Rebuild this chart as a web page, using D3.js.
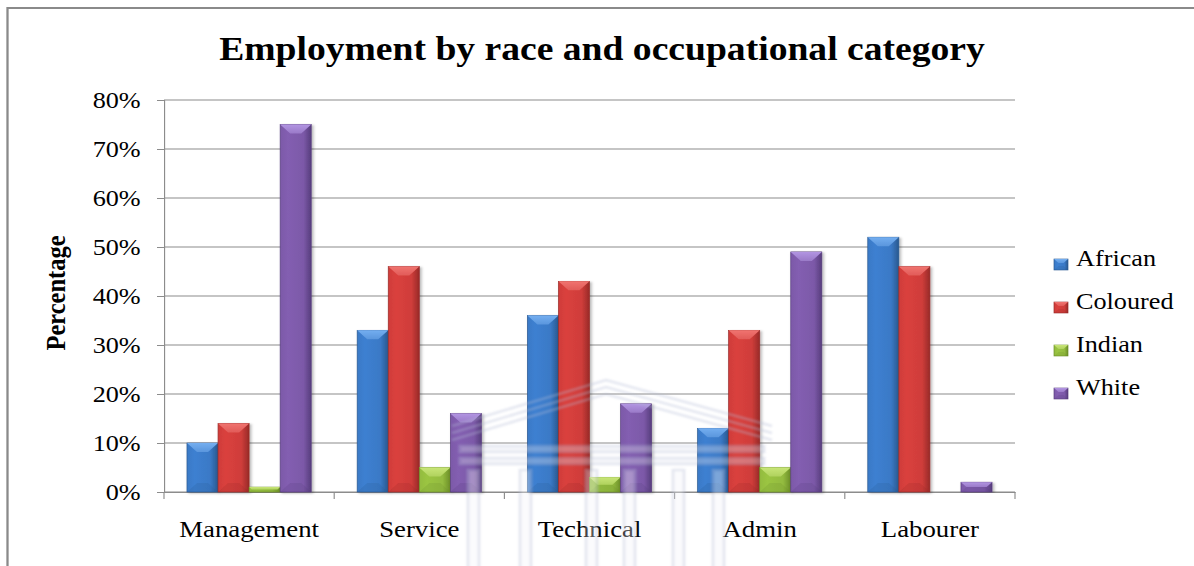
<!DOCTYPE html>
<html>

<head>
    <script src="https://d3js.org/d3.v7.min.js"></script>
    <title>Employment by race and occupational category</title>
    <style>
        body {
            margin: 0;
            background: white;
        }

        svg text {
            font-family: "Liberation Serif", "Times New Roman", serif;
            fill: #000;
        }
    </style>
</head>

<body>
    <svg id="chart" width="1194" height="566"></svg>

    <script>
        // values in percent
        const categories = ["Management", "Service", "Technical", "Admin", "Labourer"];
        const series = ["African", "Coloured", "Indian", "White"];
        const african = [10, 33, 36, 13, 52];
        const coloured = [14, 46, 43, 33, 46];
        const indian = [1, 5, 3, 5, 0];
        const white = [75, 16, 18, 49, 2];
        const yTicks = [0, 10, 20, 30, 40, 50, 60, 70, 80];

        const values = { African: african, Coloured: coloured, Indian: indian, White: white };

        // the chart is drawn in a horizontally squeezed space and stretched back out
        const K = 1.14;
        const VW = 1194 / K;
        const px = v => v / K;
        const SERIF = "'Liberation Serif', 'Times New Roman', serif";

        const palette = {
            African: { base: "#3a79c6", light: "#74aef0", dark: "#29588f" },
            Coloured: { base: "#cf3d3a", light: "#f07470", dark: "#982a28" },
            Indian: { base: "#93bb3f", light: "#c8e577", dark: "#6b8e27" },
            White: { base: "#7c59a8", light: "#b295e2", dark: "#573d7d" }
        };

        const svg = d3.select("#chart")
            .attr("viewBox", `0 0 ${VW} 566`)
            .attr("preserveAspectRatio", "none");

        const defs = svg.append("defs");

        const shadow = defs.append("filter").attr("id", "shadow")
            .attr("x", "-20%").attr("y", "-5%").attr("width", "150%").attr("height", "115%");
        shadow.append("feDropShadow")
            .attr("dx", 1.5).attr("dy", 1).attr("stdDeviation", 1.2)
            .attr("flood-color", "#000").attr("flood-opacity", 0.3);

        const soft = defs.append("filter").attr("id", "soft");
        soft.append("feGaussianBlur").attr("stdDeviation", 0.8);

        series.forEach(s => {
            const c = palette[s];
            const face = defs.append("linearGradient").attr("id", "face-" + s)
                .attr("x1", 0).attr("x2", 1).attr("y1", 0).attr("y2", 0);
            face.append("stop").attr("offset", "0%").attr("stop-color", c.base);
            face.append("stop").attr("offset", "25%").attr("stop-color", d3.color(c.base).brighter(0.15));
            face.append("stop").attr("offset", "75%").attr("stop-color", c.base);
            face.append("stop").attr("offset", "100%").attr("stop-color", c.dark);

            const cap = defs.append("linearGradient").attr("id", "top-" + s)
                .attr("x1", 0).attr("x2", 0).attr("y1", 0).attr("y2", 1);
            cap.append("stop").attr("offset", "0%").attr("stop-color", c.light);
            cap.append("stop").attr("offset", "100%").attr("stop-color", d3.interpolateRgb(c.light, c.base)(0.45));
        });

        // outer frame
        svg.append("path")
            .attr("d", `M${px(7.5)},566 L${px(7.5)},8 L${VW},8`)
            .attr("fill", "none")
            .attr("stroke", "#8a8a8a")
            .attr("stroke-width", 2);

        const plotLeft = px(164), plotRight = px(1015);
        const plotTop = 100, plotBottom = 492;

        const x0 = d3.scaleBand().domain(categories).range([plotLeft, plotRight]);
        const bw = x0.bandwidth();
        const x1 = d3.scaleBand().domain(series).range([bw * 0.135, bw * 0.865]);
        const y = d3.scaleLinear().domain([0, 80]).range([plotBottom, plotTop]);

        // gridlines
        svg.append("g")
            .selectAll("line")
            .data(yTicks)
            .join("line")
            .attr("x1", plotLeft).attr("x2", plotRight)
            .attr("y1", d => y(d)).attr("y2", d => y(d))
            .attr("stroke", "#8c8c8c")
            .attr("stroke-width", 1);

        // y axis
        const yAxis = svg.append("g")
            .attr("transform", `translate(${plotLeft},0)`)
            .call(d3.axisLeft(y)
                .tickValues(yTicks)
                .tickFormat(d => d + "%")
                .tickSize(px(7))
                .tickPadding(px(16.3)))
            .attr("font-family", SERIF);
        yAxis.select(".domain").attr("stroke", "#8c8c8c");
        yAxis.selectAll(".tick line").attr("stroke", "#8c8c8c");
        yAxis.selectAll(".tick text")
            .attr("font-size", 23)
            .attr("font-family", SERIF);

        // x axis: labels at band centres, ticks at band boundaries
        const xAxis = svg.append("g")
            .attr("transform", `translate(0,${plotBottom})`)
            .call(d3.axisBottom(x0).tickSize(0).tickSizeOuter(0).tickPadding(28.3))
            .attr("font-family", SERIF);
        xAxis.select(".domain").attr("stroke", "#8c8c8c");
        xAxis.selectAll(".tick text")
            .attr("font-size", 23.5)
            .attr("font-family", SERIF);

        const bounds = categories.map(c => x0(c)).concat([plotRight]);
        svg.append("g")
            .selectAll("line")
            .data(bounds)
            .join("line")
            .attr("x1", d => d).attr("x2", d => d)
            .attr("y1", plotBottom).attr("y2", plotBottom + 7)
            .attr("stroke", "#8c8c8c");

        // bevelled bar: face, lit top facet, darker bottom facet
        function bevelBar(g, s, bx, by, w, h, bev) {
            const c = palette[s];
            const b = Math.min(bev, h / 2);
            const bxs = b * (w / 3.1) / bev;
            g.append("rect")
                .attr("x", bx).attr("y", by).attr("width", w).attr("height", h)
                .attr("fill", `url(#face-${s})`)
                .attr("stroke", c.dark).attr("stroke-width", 0.6);
            g.append("path")
                .attr("d", `M${bx},${by + h} L${bx + w},${by + h} L${bx + w - bxs},${by + h - b} L${bx + bxs},${by + h - b}Z`)
                .attr("fill", c.dark).attr("opacity", 0.2);
            g.append("path")
                .attr("d", `M${bx},${by} L${bx + w},${by} L${bx + w - bxs},${by + b} L${bx + bxs},${by + b}Z`)
                .attr("fill", `url(#top-${s})`);
        }

        const groups = svg.append("g")
            .selectAll("g")
            .data(categories)
            .join("g")
            .attr("transform", c => `translate(${x0(c)},0)`);

        groups.each(function (c, i) {
            const g = d3.select(this);
            series.forEach(s => {
                const v = values[s][i];
                if (!v) return;
                const bar = g.append("g").attr("filter", "url(#shadow)");
                bevelBar(bar, s, x1(s), y(v), x1.bandwidth(), y(0) - y(v), 9);
            });
        });

        // faint building watermark drawn over the plot
        const wm = svg.append("g")
            .attr("fill", "none")
            .attr("stroke", "#b4bbd6")
            .attr("stroke-width", 2.5)
            .attr("opacity", 0.35)
            .attr("filter", "url(#soft)");
        const roofLines = [0, 7, 14];
        wm.selectAll("path.roof")
            .data(roofLines)
            .join("path")
            .attr("class", "roof")
            .attr("d", o => `M${px(452)},${426 + o} L${px(606)},${380 + o} L${px(772)},${426 + o}`);
        wm.selectAll("rect.band")
            .data([446, 458])
            .join("rect")
            .attr("class", "band")
            .attr("x", px(460)).attr("width", px(304))
            .attr("y", d => d).attr("height", 6)
            .attr("fill", "#e2e5f0");
        const columns = [468, 520, 586, 624, 673, 713];
        wm.selectAll("rect.col")
            .data(columns)
            .join("rect")
            .attr("class", "col")
            .attr("x", d => px(d)).attr("width", px(11))
            .attr("y", 470).attr("height", 100)
            .attr("fill", "#f4f5fa");

        // title
        svg.append("text")
            .attr("x", px(602)).attr("y", 60)
            .attr("text-anchor", "middle")
            .attr("font-family", SERIF)
            .attr("font-size", 33)
            .attr("font-weight", "bold")
            .text("Employment by race and occupational category");

        // y axis title
        svg.append("text")
            .attr("transform", `translate(${px(65)},293) rotate(-90)`)
            .attr("text-anchor", "middle")
            .attr("font-family", SERIF)
            .attr("font-size", 24.5)
            .attr("font-weight", "bold")
            .text("Percentage");

        // legend
        const legend = svg.append("g")
            .selectAll("g")
            .data(series)
            .join("g")
            .attr("transform", (s, i) => `translate(0,${266 + i * 43})`);
        legend.each(function (s) {
            const g = d3.select(this);
            bevelBar(g, s, px(1054), -7, px(14), 11, 4);
        });
        legend.append("text")
            .attr("x", px(1076))
            .attr("y", 0)
            .attr("font-family", SERIF)
            .attr("font-size", 23)
            .text(s => s);
    </script>
</body>

</html>
